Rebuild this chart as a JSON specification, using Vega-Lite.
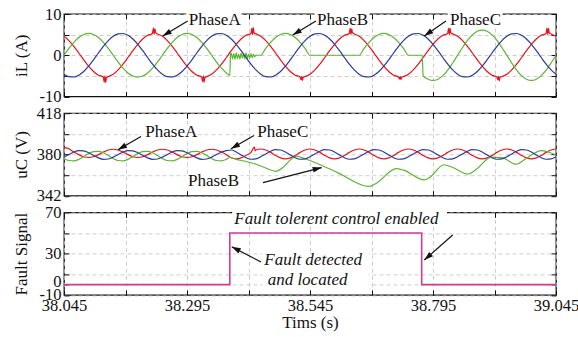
{
  "$schema": "https://vega.github.io/schema/vega-lite/v6.json",
  "usermeta": {"embedOptions": {"actions": false}},
  "background": "white",
  "autosize": {"type": "pad"},
  "padding": {"left": 11, "top": 5, "right": 0, "bottom": 0},
  "config": {
    "font": "Liberation Serif",
    "view": {"stroke": "#111111", "strokeWidth": 1.3},
    "axis": {
      "labelFont": "Liberation Serif", "labelFontSize": 16.5, "labelColor": "#111111",
      "titleFont": "Liberation Serif", "titleFontSize": 17, "titleFontWeight": "normal", "titleColor": "#111111",
      "gridColor": "#c2c2c2", "gridDash": [4, 3], "gridWidth": 0.8,
      "tickColor": "#111111", "tickWidth": 1, "tickSize": -5,
      "domain": false, "labelOverlap": false, "labelFlush": false, "labelPadding": 8
    },
    "text": {"font": "Liberation Serif", "fontSize": 17, "color": "#111111"}
  },
  "datasets": {
    "iL": [
      {"t":38.045,"A":4.59,"B":0,"C":-4.59},{"t":38.055,"A":3.55,"B":1.64,"C":-5.18},{"t":38.065,"A":2.16,"B":3.12,"C":-5.27},{"t":38.075,"A":0.55,"B":4.29,"C":-4.84},{"t":38.085,"A":-1.1,"B":5.04,"C":-3.94},
      {"t":38.095,"A":-2.65,"B":5.3,"C":-2.65},{"t":38.105,"A":-3.94,"B":5.04,"C":-1.1},{"t":38.115,"A":-4.84,"B":4.29,"C":0.55},{"t":38.125,"A":-5.27,"B":3.12,"C":2.16},{"t":38.135,"A":-5.18,"B":1.64,"C":3.55},
      {"t":38.145,"A":-4.59,"B":0,"C":4.59},{"t":38.155,"A":-3.55,"B":-1.64,"C":5.18},{"t":38.165,"A":-2.16,"B":-3.12,"C":5.27},{"t":38.175,"A":-0.55,"B":-4.29,"C":4.84},{"t":38.185,"A":1.1,"B":-5.04,"C":3.94},
      {"t":38.195,"A":2.65,"B":-5.3,"C":2.65},{"t":38.205,"A":3.94,"B":-5.04,"C":1.1},{"t":38.215,"A":4.84,"B":-4.29,"C":-0.55},{"t":38.225,"A":5.27,"B":-3.12,"C":-2.16},{"t":38.235,"A":5.18,"B":-1.64,"C":-3.55},
      {"t":38.245,"A":4.59,"B":0,"C":-4.59},{"t":38.255,"A":3.55,"B":1.64,"C":-5.18},{"t":38.265,"A":2.16,"B":3.12,"C":-5.27},{"t":38.275,"A":0.55,"B":4.29,"C":-4.84},{"t":38.285,"A":-1.1,"B":5.04,"C":-3.94},
      {"t":38.295,"A":-2.65,"B":5.3,"C":-2.65},{"t":38.305,"A":-3.94,"B":5.04,"C":-1.1},{"t":38.315,"A":-4.84,"B":4.29,"C":0.55},{"t":38.325,"A":-5.27,"B":3.12,"C":2.16},{"t":38.335,"A":-5.18,"B":1.64,"C":3.55},
      {"t":38.345,"A":-4.59,"B":0,"C":4.59},{"t":38.355,"A":-3.55,"B":-1.64,"C":5.18},{"t":38.365,"A":-2.16,"B":-3.12,"C":5.27},{"t":38.375,"A":-0.55,"B":-4.29,"C":4.84},{"t":38.385,"A":1.1,"C":3.94},
      {"t":38.395,"A":2.65,"C":2.65},{"t":38.405,"A":3.94,"C":1.1},{"t":38.415,"A":4.84,"C":-0.55},{"t":38.425,"A":5.27,"C":-2.16},{"t":38.435,"A":5.18,"C":-3.55},
      {"t":38.445,"A":4.59,"B":0,"C":-4.59},{"t":38.455,"A":3.55,"B":1.64,"C":-5.18},{"t":38.465,"A":2.16,"B":3.12,"C":-5.27},{"t":38.475,"A":0.55,"B":4.29,"C":-4.84},{"t":38.485,"A":-1.1,"B":5.04,"C":-3.94},
      {"t":38.495,"A":-2.65,"B":5.3,"C":-2.65},{"t":38.505,"A":-3.94,"B":5.04,"C":-1.1},{"t":38.515,"A":-4.84,"B":4.29,"C":0.55},{"t":38.525,"A":-5.27,"B":3.12,"C":2.16},{"t":38.535,"A":-5.18,"B":1.64,"C":3.55},
      {"t":38.545,"A":-4.59,"B":0,"C":4.59},{"t":38.555,"A":-3.55,"B":0,"C":5.18},{"t":38.565,"A":-2.16,"B":0,"C":5.27},{"t":38.575,"A":-0.55,"B":0,"C":4.84},{"t":38.585,"A":1.1,"B":0,"C":3.94},
      {"t":38.595,"A":2.65,"B":0,"C":2.65},{"t":38.605,"A":3.94,"B":0,"C":1.1},{"t":38.615,"A":4.84,"B":0,"C":-0.55},{"t":38.625,"A":5.27,"B":0,"C":-2.16},{"t":38.635,"A":5.18,"B":0,"C":-3.55},
      {"t":38.645,"A":4.59,"B":0,"C":-4.59},{"t":38.655,"A":3.55,"B":1.64,"C":-5.18},{"t":38.665,"A":2.16,"B":3.12,"C":-5.27},{"t":38.675,"A":0.55,"B":4.29,"C":-4.84},{"t":38.685,"A":-1.1,"B":5.04,"C":-3.94},
      {"t":38.695,"A":-2.65,"B":5.3,"C":-2.65},{"t":38.705,"A":-3.94,"B":5.04,"C":-1.1},{"t":38.715,"A":-4.84,"B":4.29,"C":0.55},{"t":38.725,"A":-5.27,"B":3.12,"C":2.16},{"t":38.735,"A":-5.18,"B":1.64,"C":3.55},
      {"t":38.745,"A":-4.59,"B":0,"C":4.59},{"t":38.755,"A":-3.55,"B":0,"C":5.18},{"t":38.765,"A":-2.16,"B":0,"C":5.27},{"t":38.775,"A":-0.55,"B":-4.93,"C":4.84},{"t":38.785,"A":1.1,"B":-5.8,"C":3.94},
      {"t":38.795,"A":2.65,"B":-6.1,"C":2.65},{"t":38.805,"A":3.94,"B":-5.8,"C":1.1},{"t":38.815,"A":4.84,"B":-4.93,"C":-0.55},{"t":38.825,"A":5.27,"B":-3.59,"C":-2.16},{"t":38.835,"A":5.18,"B":-1.88,"C":-3.55},
      {"t":38.845,"A":4.59,"B":0,"C":-4.59},{"t":38.855,"A":3.55,"B":1.88,"C":-5.18},{"t":38.865,"A":2.16,"B":3.59,"C":-5.27},{"t":38.875,"A":0.55,"B":4.93,"C":-4.84},{"t":38.885,"A":-1.1,"B":5.8,"C":-3.94},
      {"t":38.895,"A":-2.65,"B":6.1,"C":-2.65},{"t":38.905,"A":-3.94,"B":5.8,"C":-1.1},{"t":38.915,"A":-4.84,"B":4.93,"C":0.55},{"t":38.925,"A":-5.27,"B":3.59,"C":2.16},{"t":38.935,"A":-5.18,"B":1.88,"C":3.55},
      {"t":38.945,"A":-4.59,"B":0,"C":4.59},{"t":38.955,"A":-3.55,"B":-1.88,"C":5.18},{"t":38.965,"A":-2.16,"B":-3.59,"C":5.27},{"t":38.975,"A":-0.55,"B":-4.93,"C":4.84},{"t":38.985,"A":1.1,"B":-5.8,"C":3.94},
      {"t":38.995,"A":2.65,"B":-6.1,"C":2.65},{"t":39.005,"A":3.94,"B":-5.8,"C":1.1},{"t":39.015,"A":4.84,"B":-4.93,"C":-0.55},{"t":39.025,"A":5.27,"B":-3.59,"C":-2.16},{"t":39.035,"A":5.18,"B":-1.88,"C":-3.55},
      {"t":39.045,"A":4.59,"B":0,"C":-4.59},
      {"t":38.382,"B":-4.86},{"t":38.3835,"B":0.3},
      {"t":38.385,"B":0.5},{"t":38.3875,"B":-0.9},{"t":38.39,"B":0.4},{"t":38.3925,"B":-1.0},{"t":38.395,"B":0.6},{"t":38.3975,"B":-0.8},{"t":38.4,"B":0.3},
      {"t":38.4025,"B":-0.9},{"t":38.405,"B":0.5},{"t":38.4075,"B":-0.7},{"t":38.41,"B":0.4},{"t":38.4125,"B":-0.9},{"t":38.415,"B":0.6},{"t":38.4175,"B":-0.8},
      {"t":38.42,"B":0.3},{"t":38.4225,"B":-0.7},{"t":38.425,"B":0.4},{"t":38.4275,"B":-0.6},{"t":38.43,"B":0.2},{"t":38.4325,"B":-0.4},{"t":38.435,"B":0.0},
      {"t":38.44,"B":0},{"t":38.773,"B":0},
      {"t":38.1253,"A":-5.5},{"t":38.1268,"A":-6.5},{"t":38.1283,"A":-5.0},{"t":38.1298,"A":-6.6},{"t":38.1313,"A":-5.4},
      {"t":38.2253,"A":5.6},{"t":38.2268,"A":6.6},{"t":38.2283,"A":5.1},{"t":38.2298,"A":6.4},{"t":38.2313,"A":5.5},
      {"t":38.3253,"A":-5.5},{"t":38.3268,"A":-6.4},{"t":38.3283,"A":-5.0},{"t":38.3298,"A":-6.5},{"t":38.3313,"A":-5.4},
      {"t":38.4253,"A":5.5},{"t":38.4268,"A":6.5},{"t":38.4283,"A":5.0},{"t":38.4298,"A":6.7},{"t":38.4313,"A":5.4},
      {"t":38.5253,"A":-5.4},{"t":38.5268,"A":-6.0},{"t":38.5283,"A":-5.1},{"t":38.5298,"A":-6.1},{"t":38.5313,"A":-5.3},
      {"t":38.6253,"A":5.6},{"t":38.6268,"A":6.6},{"t":38.6283,"A":5.0},{"t":38.6298,"A":6.4},{"t":38.6313,"A":5.5},
      {"t":38.7253,"A":-5.4},{"t":38.7268,"A":-5.8},{"t":38.7283,"A":-5.2},{"t":38.7298,"A":-5.9},{"t":38.7313,"A":-5.3},
      {"t":38.8253,"A":5.6},{"t":38.8268,"A":6.5},{"t":38.8283,"A":5.0},{"t":38.8298,"A":6.6},{"t":38.8313,"A":5.4},
      {"t":38.9253,"A":-5.4},{"t":38.9268,"A":-6.0},{"t":38.9283,"A":-5.1},{"t":38.9298,"A":-6.2},{"t":38.9313,"A":-5.3},
      {"t":39.0253,"A":5.6},{"t":39.0268,"A":6.6},{"t":39.0283,"A":5.0},{"t":39.0298,"A":6.5},{"t":39.0313,"A":5.5}
    ],
    "uC": [
      {"t":38.045,"A":386.5,"B":376.3,"C":377.5},{"t":38.055,"A":385.2,"B":374.4,"C":379.9},{"t":38.065,"A":382.2,"B":374.1,"C":382.2},{"t":38.075,"A":379.8,"B":375.5,"C":383.5},{"t":38.085,"A":377.9,"B":378.0,"C":383.3},
      {"t":38.095,"A":377.2,"B":380.8,"C":381.6},{"t":38.105,"A":377.9,"B":382.6,"C":379.1},{"t":38.115,"A":379.8,"B":382.9,"C":376.8},{"t":38.125,"A":382.2,"B":381.5,"C":375.5},{"t":38.135,"A":384.1,"B":379.0,"C":375.8},
      {"t":38.145,"A":384.8,"B":376.3,"C":377.5},{"t":38.155,"A":384.1,"B":374.4,"C":379.9},{"t":38.165,"A":382.2,"B":374.1,"C":382.2},{"t":38.175,"A":379.8,"B":375.5,"C":383.5},{"t":38.185,"A":377.9,"B":378.0,"C":383.3},
      {"t":38.195,"A":377.2,"B":380.8,"C":381.6},{"t":38.205,"A":377.9,"B":382.6,"C":379.1},{"t":38.215,"A":379.8,"B":382.9,"C":376.8},{"t":38.225,"A":382.2,"B":381.5,"C":375.5},{"t":38.235,"A":384.1,"B":379.0,"C":375.8},
      {"t":38.245,"A":384.8,"B":376.3,"C":377.5},{"t":38.255,"A":384.1,"B":374.4,"C":379.9},{"t":38.265,"A":382.2,"B":374.1,"C":382.2},{"t":38.275,"A":379.8,"B":375.5,"C":383.5},{"t":38.285,"A":377.9,"B":378.0,"C":383.3},
      {"t":38.295,"A":377.2,"B":380.8,"C":381.6},{"t":38.305,"A":377.9,"B":382.6,"C":379.1},{"t":38.315,"A":379.8,"B":382.9,"C":376.8},{"t":38.325,"A":382.2,"B":381.5,"C":375.5},{"t":38.335,"A":384.1,"B":379.0,"C":375.8},
      {"t":38.345,"A":384.8,"B":376.3,"C":377.5},{"t":38.355,"A":384.1,"B":374.4,"C":379.9},{"t":38.365,"A":382.2,"B":374.1,"C":382.2},{"t":38.375,"A":379.8,"B":375.5,"C":383.5},
      {"t":38.385,"A":376.9,"C":384.1},{"t":38.395,"A":376.0,"C":382.3},{"t":38.405,"A":376.9,"C":379.5},{"t":38.415,"A":379.1,"C":377.0},{"t":38.425,"A":381.9,"C":375.6},{"t":38.435,"A":384.1,"C":375.9},
      {"t":38.445,"A":385.0,"C":377.8},{"t":38.455,"A":384.1,"C":380.5},{"t":38.465,"A":381.9,"C":383.0},{"t":38.475,"A":379.1,"C":384.4},{"t":38.485,"A":376.9,"C":384.1},
      {"t":38.495,"A":376.0,"C":382.3},{"t":38.505,"A":376.9,"C":379.5},{"t":38.515,"A":379.1,"C":377.0},{"t":38.525,"A":381.9,"C":375.6},{"t":38.535,"A":384.1,"C":375.9},
      {"t":38.545,"A":385.0,"C":377.8},{"t":38.555,"A":384.1,"C":380.5},{"t":38.565,"A":381.9,"C":383.0},{"t":38.575,"A":379.1,"C":384.4},{"t":38.585,"A":376.9,"C":384.1},
      {"t":38.595,"A":376.0,"C":382.3},{"t":38.605,"A":376.9,"C":379.5},{"t":38.615,"A":379.1,"C":377.0},{"t":38.625,"A":381.9,"C":375.6},{"t":38.635,"A":384.1,"C":375.9},
      {"t":38.645,"A":385.0,"C":377.8},{"t":38.655,"A":384.1,"C":380.5},{"t":38.665,"A":381.9,"C":383.0},{"t":38.675,"A":379.1,"C":384.4},{"t":38.685,"A":376.9,"C":384.1},
      {"t":38.695,"A":376.0,"C":382.3},{"t":38.705,"A":376.9,"C":379.5},{"t":38.715,"A":379.1,"C":377.0},{"t":38.725,"A":381.9,"C":375.6},{"t":38.735,"A":384.1,"C":375.9},
      {"t":38.745,"A":385.0,"C":377.8},{"t":38.755,"A":384.1,"C":380.5},{"t":38.765,"A":381.9,"C":383.0},{"t":38.775,"A":379.1,"C":384.4},{"t":38.785,"A":376.9,"C":384.1},
      {"t":38.795,"A":376.0,"C":382.3},{"t":38.805,"A":376.9,"C":379.5},{"t":38.815,"A":379.1,"C":377.0},{"t":38.825,"A":381.9,"C":375.6},{"t":38.835,"A":384.1,"C":375.9},
      {"t":38.845,"A":385.0,"C":377.8},{"t":38.855,"A":384.1,"C":380.5},{"t":38.865,"A":381.9,"C":383.0},{"t":38.875,"A":379.1,"C":384.4},{"t":38.885,"A":376.9,"C":384.1},
      {"t":38.895,"A":376.0,"C":382.3},{"t":38.905,"A":376.9,"C":379.5},{"t":38.915,"A":379.1,"C":377.0},{"t":38.925,"A":381.9,"C":375.6},{"t":38.935,"A":384.1,"C":375.9},
      {"t":38.945,"A":385.0,"C":377.8},{"t":38.955,"A":384.1,"C":380.5},{"t":38.965,"A":381.9,"C":383.0},{"t":38.975,"A":379.1,"C":384.4},{"t":38.985,"A":376.9,"C":384.1},
      {"t":38.995,"A":376.0,"C":382.3},{"t":39.005,"A":376.9,"C":379.5},{"t":39.015,"A":379.1,"C":377.0},{"t":39.025,"A":381.9,"C":375.6},{"t":39.035,"A":384.1,"C":375.9},
      {"t":39.045,"A":385.0,"C":377.8},
      {"t":38.432,"A":386.8},{"t":38.4335,"A":383.2},
      {"t":38.382,"B":377.2},{"t":38.395,"B":375.5},{"t":38.415,"B":373.5},{"t":38.435,"B":371.0},{"t":38.455,"B":367.5},{"t":38.475,"B":364.5},
      {"t":38.49,"B":368.0},{"t":38.505,"B":375.0},{"t":38.517,"B":378.5},{"t":38.535,"B":376.0},{"t":38.6,"B":363.5},{"t":38.665,"B":350.5},
      {"t":38.68,"B":353.5},{"t":38.72,"B":367.0},{"t":38.735,"B":365.5},{"t":38.777,"B":356.5},{"t":38.79,"B":359.5},{"t":38.817,"B":370.5},
      {"t":38.835,"B":368.0},{"t":38.866,"B":362.0},{"t":38.885,"B":367.0},{"t":38.913,"B":377.5},{"t":38.935,"B":377.0},{"t":38.964,"B":371.0},
      {"t":38.985,"B":376.5},{"t":39.015,"B":383.5},{"t":39.03,"B":382.0},{"t":39.045,"B":379.5}
    ],
    "fault": [
      {"t":38.045,"v":0},{"t":38.382,"v":50},{"t":38.772,"v":0},{"t":39.045,"v":0}
    ],
    "iLabels": [
      {"t":38.2985,"v":8.55,"label":"PhaseA"},{"t":38.5593,"v":8.55,"label":"PhaseB"},{"t":38.8295,"v":8.55,"label":"PhaseC"}
    ],
    "iBoxes": [
      {"t":38.2935,"t2":38.4055,"v":6.6,"v2":10.8},{"t":38.554,"t2":38.666,"v":6.6,"v2":10.8},{"t":38.8245,"t2":38.9365,"v":6.6,"v2":10.8}
    ],
    "iArrows": [
      {"t":38.2964,"v":8.3,"t2":38.2456,"v2":4.67,"heading":239},
      {"t":38.5572,"v":8.3,"t2":38.5098,"v2":4.91,"heading":239},
      {"t":38.8214,"v":8.3,"t2":38.7773,"v2":4.67,"heading":235}
    ],
    "uLabels": [
      {"t":38.2102,"v":400.3,"label":"PhaseA"},{"t":38.4378,"v":400.5,"label":"PhaseC"},{"t":38.297,"v":355.4,"label":"PhaseB"}
    ],
    "uBoxes": [
      {"t":38.2052,"t2":38.3172,"v":394,"v2":407},{"t":38.4328,"t2":38.5448,"v":394,"v2":407},{"t":38.292,"t2":38.404,"v":349,"v2":362}
    ],
    "uArrows": [
      {"t":38.2015,"v":396.5,"t2":38.1548,"v2":384.3,"heading":240},
      {"t":38.4312,"v":397.5,"t2":38.3844,"v2":385.2,"heading":240},
      {"t":38.4495,"v":354.1,"t2":38.5688,"v2":367.9,"heading":76}
    ],
    "fLabels": [
      {"t":38.3911,"v":63.6,"label":"Fault tolerent control enabled"},
      {"t":38.4521,"v":23.8,"label":"Fault detected"},
      {"t":38.4589,"v":4.4,"label":"and located"}
    ],
    "fBoxes": [
      {"t":38.3868,"t2":38.8235,"v":57,"v2":75.5},{"t":38.448,"t2":38.664,"v":-5,"v2":32}
    ],
    "fArrows": [
      {"t":38.4454,"v":21.9,"t2":38.3859,"v2":36.7,"heading":297},
      {"t":38.835,"v":48.1,"t2":38.7773,"v2":23.8,"heading":229}
    ]
  },
  "bounds": "flush",
  "spacing": 16.2,
  "vconcat": [
    {
      "width": 492, "height": 82.5,
      "resolve": {"axis": {"x": "independent", "y": "independent"}},
      "layer": [
        {
          "data": {"name": "iL"},
          "transform": [{"fold": ["A", "B", "C"], "as": ["s", "v"]}, {"filter": "isValid(datum.v)"}],
          "mark": {"type": "line", "interpolate": "monotone", "strokeWidth": 1.2},
          "encoding": {
            "x": {"field": "t", "type": "quantitative", "scale": {"domain": [38.045, 39.045], "nice": false},
                  "axis": {"orient": "bottom", "values": [38.045, 38.17, 38.295, 38.42, 38.545, 38.67, 38.795, 38.92, 39.045], "labels": false, "title": null, "grid": true}},
            "y": {"field": "v", "type": "quantitative", "scale": {"domain": [-10, 10], "nice": false},
                  "axis": {"orient": "left", "values": [-10, -5, 0, 5, 10], "labelExpr": "datum.value == 5 || datum.value == -5 ? '' : '' + datum.value",
                           "title": "iL (A)", "grid": true, "minExtent": 30, "maxExtent": 30, "titlePadding": 4}},
            "color": {"field": "s", "type": "nominal", "scale": {"domain": ["A", "B", "C"], "range": ["#e8131b", "#5cb531", "#2b3b9c"]}, "legend": null}
          }
        },
        {
          "data": {"name": "iBoxes"},
          "mark": {"type": "rect", "fill": "white"},
          "encoding": {
            "x": {"field": "t", "type": "quantitative", "scale": {"domain": [38.045, 39.045], "nice": false}, "axis": null},
            "x2": {"field": "t2"},
            "y": {"field": "v", "type": "quantitative", "scale": {"domain": [-10, 10], "nice": false}, "axis": null},
            "y2": {"field": "v2"}
          }
        },
        {
          "data": {"name": "iLabels"},
          "mark": {"type": "text", "align": "left", "baseline": "middle"},
          "encoding": {
            "x": {"field": "t", "type": "quantitative", "scale": {"domain": [38.045, 39.045], "nice": false}, "axis": null},
            "y": {"field": "v", "type": "quantitative", "scale": {"domain": [-10, 10], "nice": false}, "axis": null},
            "text": {"field": "label"}
          }
        },
        {
          "data": {"name": "iArrows"},
          "mark": {"type": "rule", "strokeWidth": 1.2, "color": "#111111"},
          "encoding": {
            "x": {"field": "t", "type": "quantitative", "scale": {"domain": [38.045, 39.045], "nice": false}, "axis": null},
            "y": {"field": "v", "type": "quantitative", "scale": {"domain": [-10, 10], "nice": false}, "axis": null},
            "x2": {"field": "t2"},
            "y2": {"field": "v2"}
          }
        },
        {
          "data": {"name": "iArrows"},
          "mark": {"type": "point", "shape": "M0,0L-0.32,1L0.32,1Z", "size": 324, "filled": true, "color": "#111111", "opacity": 1},
          "encoding": {
            "x": {"field": "t2", "type": "quantitative", "scale": {"domain": [38.045, 39.045], "nice": false},
                  "axis": {"orient": "top", "values": [38.045, 38.17, 38.295, 38.42, 38.545, 38.67, 38.795, 38.92, 39.045], "labels": false, "title": null, "grid": false}},
            "y": {"field": "v2", "type": "quantitative", "scale": {"domain": [-10, 10], "nice": false},
                  "axis": {"orient": "right", "values": [-10, -5, 0, 5, 10], "labels": false, "title": null, "grid": false}},
            "angle": {"field": "heading", "type": "quantitative", "scale": null}
          }
        }
      ]
    },
    {
      "width": 492, "height": 82.5,
      "resolve": {"axis": {"x": "independent", "y": "independent"}},
      "layer": [
        {
          "data": {"name": "uC"},
          "transform": [{"fold": ["A", "B", "C"], "as": ["s", "v"]}, {"filter": "isValid(datum.v)"}],
          "mark": {"type": "line", "interpolate": "monotone", "strokeWidth": 1.2},
          "encoding": {
            "x": {"field": "t", "type": "quantitative", "scale": {"domain": [38.045, 39.045], "nice": false},
                  "axis": {"orient": "bottom", "values": [38.045, 38.17, 38.295, 38.42, 38.545, 38.67, 38.795, 38.92, 39.045], "labels": false, "title": null, "grid": true}},
            "y": {"field": "v", "type": "quantitative", "scale": {"domain": [342, 418], "nice": false},
                  "axis": {"orient": "left", "values": [342, 361, 380, 399, 418], "labelExpr": "datum.value == 361 || datum.value == 399 ? '' : '' + datum.value",
                           "title": "uC (V)", "grid": true, "minExtent": 30, "maxExtent": 30, "titlePadding": 4}},
            "color": {"field": "s", "type": "nominal", "scale": {"domain": ["A", "B", "C"], "range": ["#e8131b", "#5cb531", "#2b3b9c"]}, "legend": null}
          }
        },
        {
          "data": {"name": "uBoxes"},
          "mark": {"type": "rect", "fill": "white"},
          "encoding": {
            "x": {"field": "t", "type": "quantitative", "scale": {"domain": [38.045, 39.045], "nice": false}, "axis": null},
            "x2": {"field": "t2"},
            "y": {"field": "v", "type": "quantitative", "scale": {"domain": [342, 418], "nice": false}, "axis": null},
            "y2": {"field": "v2"}
          }
        },
        {
          "data": {"name": "uLabels"},
          "mark": {"type": "text", "align": "left", "baseline": "middle"},
          "encoding": {
            "x": {"field": "t", "type": "quantitative", "scale": {"domain": [38.045, 39.045], "nice": false}, "axis": null},
            "y": {"field": "v", "type": "quantitative", "scale": {"domain": [342, 418], "nice": false}, "axis": null},
            "text": {"field": "label"}
          }
        },
        {
          "data": {"name": "uArrows"},
          "mark": {"type": "rule", "strokeWidth": 1.2, "color": "#111111"},
          "encoding": {
            "x": {"field": "t", "type": "quantitative", "scale": {"domain": [38.045, 39.045], "nice": false}, "axis": null},
            "y": {"field": "v", "type": "quantitative", "scale": {"domain": [342, 418], "nice": false}, "axis": null},
            "x2": {"field": "t2"},
            "y2": {"field": "v2"}
          }
        },
        {
          "data": {"name": "uArrows"},
          "mark": {"type": "point", "shape": "M0,0L-0.32,1L0.32,1Z", "size": 324, "filled": true, "color": "#111111", "opacity": 1},
          "encoding": {
            "x": {"field": "t2", "type": "quantitative", "scale": {"domain": [38.045, 39.045], "nice": false},
                  "axis": {"orient": "top", "values": [38.045, 38.17, 38.295, 38.42, 38.545, 38.67, 38.795, 38.92, 39.045], "labels": false, "title": null, "grid": false}},
            "y": {"field": "v2", "type": "quantitative", "scale": {"domain": [342, 418], "nice": false},
                  "axis": {"orient": "right", "values": [342, 361, 380, 399, 418], "labels": false, "title": null, "grid": false}},
            "angle": {"field": "heading", "type": "quantitative", "scale": null}
          }
        }
      ]
    },
    {
      "width": 492, "height": 82.5,
      "resolve": {"axis": {"x": "independent", "y": "independent"}},
      "layer": [
        {
          "data": {"name": "fault"},
          "mark": {"type": "line", "interpolate": "step-after", "strokeWidth": 1.6, "color": "#cc3d96"},
          "encoding": {
            "x": {"field": "t", "type": "quantitative", "scale": {"domain": [38.045, 39.045], "nice": false},
                  "axis": {"orient": "bottom", "values": [38.045, 38.17, 38.295, 38.42, 38.545, 38.67, 38.795, 38.92, 39.045],
                           "labelExpr": "indexof([38.17, 38.42, 38.67, 38.92], datum.value) >= 0 ? '' : format(datum.value, '.3f')",
                           "title": "Tims (s)", "titlePadding": 0, "grid": true}},
            "y": {"field": "v", "type": "quantitative", "scale": {"domain": [-10, 70], "nice": false},
                  "axis": {"orient": "left", "values": [-10, 0, 10, 30, 50, 70], "labelExpr": "datum.value == 10 || datum.value == 50 ? '' : '' + datum.value",
                           "labelOffset": {"condition": {"test": "datum.value == 0", "value": -3}, "value": 0},
                           "title": "Fault Signal", "grid": true, "minExtent": 30, "maxExtent": 30, "titlePadding": 4}}
          }
        },
        {
          "data": {"name": "fBoxes"},
          "mark": {"type": "rect", "fill": "white"},
          "encoding": {
            "x": {"field": "t", "type": "quantitative", "scale": {"domain": [38.045, 39.045], "nice": false}, "axis": null},
            "x2": {"field": "t2"},
            "y": {"field": "v", "type": "quantitative", "scale": {"domain": [-10, 70], "nice": false}, "axis": null},
            "y2": {"field": "v2"}
          }
        },
        {
          "data": {"name": "fLabels"},
          "mark": {"type": "text", "align": "left", "baseline": "middle", "fontStyle": "italic"},
          "encoding": {
            "x": {"field": "t", "type": "quantitative", "scale": {"domain": [38.045, 39.045], "nice": false}, "axis": null},
            "y": {"field": "v", "type": "quantitative", "scale": {"domain": [-10, 70], "nice": false}, "axis": null},
            "text": {"field": "label"}
          }
        },
        {
          "data": {"name": "fArrows"},
          "mark": {"type": "rule", "strokeWidth": 1.2, "color": "#111111"},
          "encoding": {
            "x": {"field": "t", "type": "quantitative", "scale": {"domain": [38.045, 39.045], "nice": false}, "axis": null},
            "y": {"field": "v", "type": "quantitative", "scale": {"domain": [-10, 70], "nice": false}, "axis": null},
            "x2": {"field": "t2"},
            "y2": {"field": "v2"}
          }
        },
        {
          "data": {"name": "fArrows"},
          "mark": {"type": "point", "shape": "M0,0L-0.32,1L0.32,1Z", "size": 324, "filled": true, "color": "#111111", "opacity": 1},
          "encoding": {
            "x": {"field": "t2", "type": "quantitative", "scale": {"domain": [38.045, 39.045], "nice": false},
                  "axis": {"orient": "top", "values": [38.045, 38.17, 38.295, 38.42, 38.545, 38.67, 38.795, 38.92, 39.045], "labels": false, "title": null, "grid": false}},
            "y": {"field": "v2", "type": "quantitative", "scale": {"domain": [-10, 70], "nice": false},
                  "axis": {"orient": "right", "values": [-10, 0, 10, 30, 50, 70], "labels": false, "title": null, "grid": false}},
            "angle": {"field": "heading", "type": "quantitative", "scale": null}
          }
        }
      ]
    }
  ]
}
